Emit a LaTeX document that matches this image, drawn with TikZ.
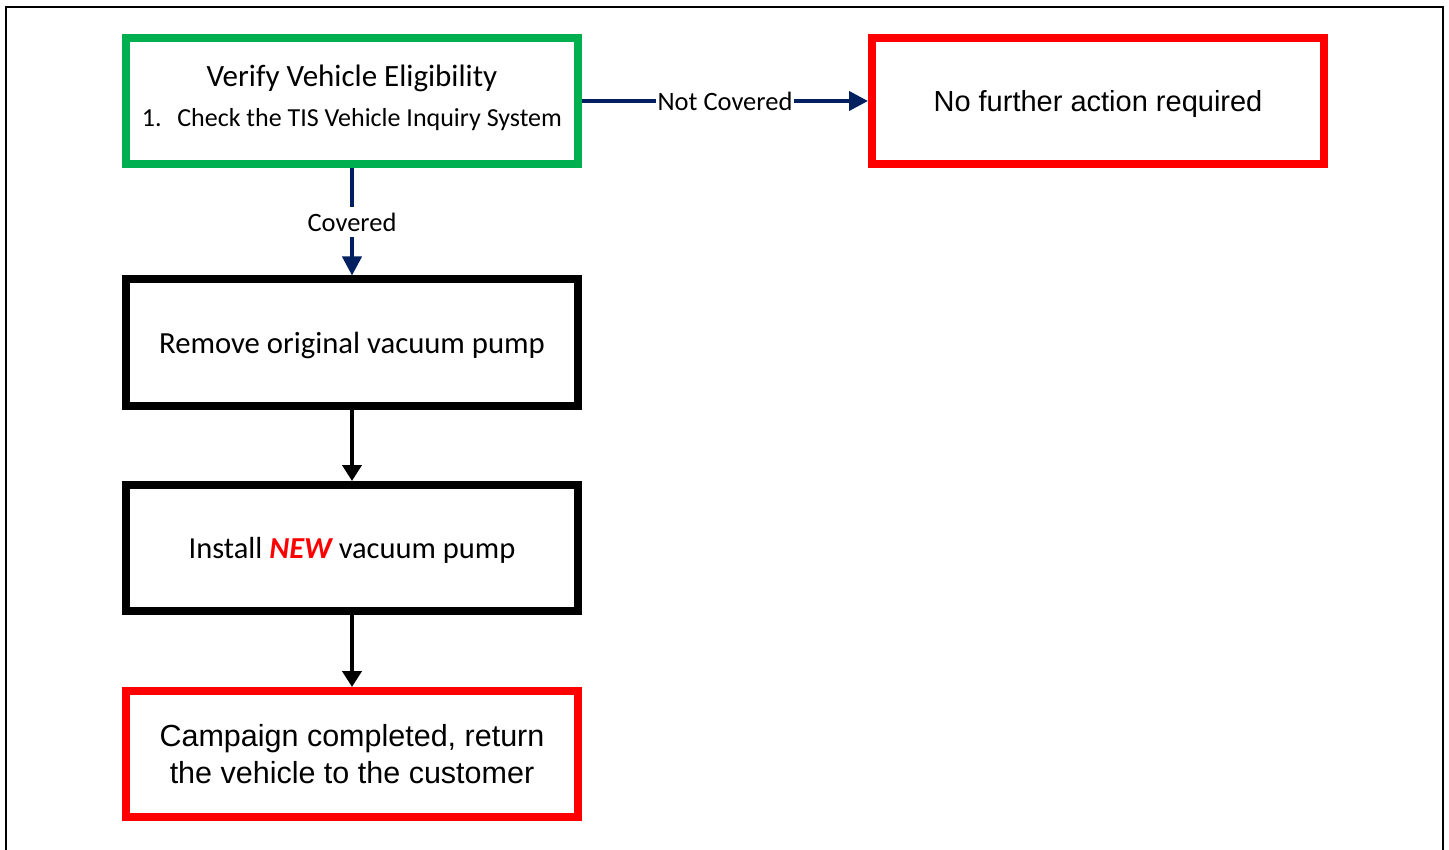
\documentclass[tikz,border=0pt]{standalone}
\usepackage{fontspec}
\setmainfont{Carlito}
\newfontfamily\arialf{Liberation Sans}
\usetikzlibrary{arrows.meta}
\definecolor{gboxc}{HTML}{00B050}
\definecolor{rboxc}{HTML}{FF0000}
\definecolor{navyc}{HTML}{002060}
\newcommand\lowertxt[1]{\raisebox{-2.5pt}[\height][\depth]{#1}}
\tikzset{
  boxbase/.style={draw, line width=8pt, minimum width=452pt, minimum height=126pt, align=center, inner sep=0pt},
  gbox/.style={boxbase, draw=gboxc},
  rbox/.style={boxbase, draw=rboxc},
  kbox/.style={boxbase, draw=black},
  navyarrow/.style={draw=navyc, line width=4pt, -{Triangle[length=19pt,width=19pt]}},
  blackarrow/.style={draw=black, line width=4pt, -{Triangle[length=16pt,width=19pt]}},
  lbl/.style={fill=white, inner xsep=1.5pt, inner ysep=6pt, font=\fontsize{26.5}{30}\selectfont}
}
\begin{document}
\begin{tikzpicture}[x=1pt,y=-1pt]
\useasboundingbox (0,0) rectangle (1449,850);
\draw[line width=2pt] (6,870) -- (6,7) -- (1443,7) -- (1443,870);
\node[gbox] (verify) at (352,101.5) {};
\node[font=\fontsize{31}{35}\selectfont] (vt) at (352,78) {Verify Vehicle Eligibility};
\node[font=\fontsize{26}{30}\selectfont] (vl) at (352,120) {1.\hspace{0.6em}Check the TIS Vehicle Inquiry System};
\node[rbox, font=\arialf\fontsize{29}{33}\selectfont] (nofurther) at (1098,101.5) {\lowertxt{No further action required}};
\node[kbox, font=\fontsize{30.7}{35}\selectfont] (remove) at (352,342.5) {\lowertxt{Remove original vacuum pump}};
\node[kbox, font=\fontsize{30.5}{35}\selectfont] (install) at (352,548) {\lowertxt{Install {\color{rboxc}\bfseries\itshape NEW} vacuum pump}};
\node[rbox, font=\arialf\fontsize{30.5}{37}\selectfont] (done) at (352,754) {Campaign completed, return\\the vehicle to the customer};
\draw[navyarrow] (verify.east |- 0,101) -- node[lbl] {Not Covered} (nofurther.west |- 0,101);
\draw[navyarrow] (verify.south) -- node[lbl, pos=0.5] {Covered} (remove.north);
\draw[blackarrow] (remove.south) -- (install.north);
\draw[blackarrow] (install.south) -- (done.north);
\end{tikzpicture}
\end{document}
